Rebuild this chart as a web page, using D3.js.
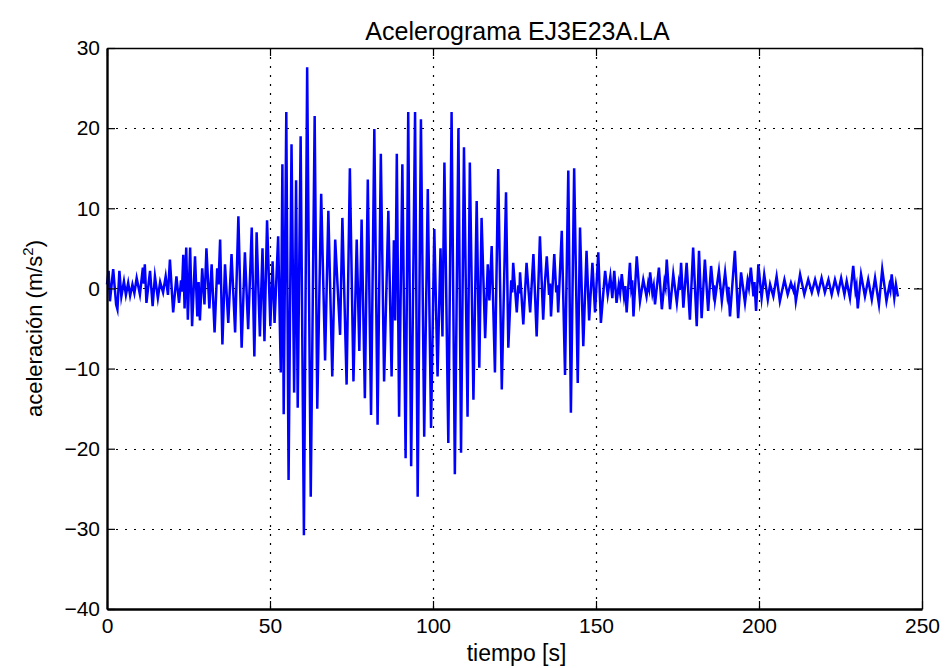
<!DOCTYPE html>
<html>
<head>
<meta charset="utf-8">
<script src="https://cdn.jsdelivr.net/npm/d3@7"></script>
<style>
  html, body { margin: 0; padding: 0; background: #fff; }
  svg { display: block; font-family: "Liberation Sans", Arial, Helvetica, sans-serif; }
</style>
</head>
<body>
<svg id="chart" width="952" height="668"></svg>
<script>
// Registro del acelerograma: pares [tiempo (s), aceleración (m/s²)] en los extremos de cada oscilación
const fasePrevia = [
  [0, 0.5], [0.5, 2.2], [0.9, -1.6], [1.9, 2.4], [2.8, -2.0], [3.2, -2.6], [3.8, 2.2], [4.4, -1.0],
  [5.2, 0.9], [5.8, -0.8], [6.5, 0.7], [7.1, -0.9], [7.8, 0.5], [8.4, -0.6], [9.1, 1.3], [10.1, -0.75],
  [11.0, 2.6], [11.3, 0.6], [11.6, 3.0], [12.1, -1.8], [13.2, 2.2], [14.0, -2.2], [14.7, 1.5], [15.6, -1.2],
  [16.3, 0.8], [17.2, -0.5], [18.0, 1.5], [18.7, -0.8], [19.3, 3.6], [20.3, -3.0], [21.3, 1.5], [22.1, -1.8],
  [22.7, 1.0], [23.0, -0.4], [23.4, 4.2], [23.8, -2.5], [24.3, 5.1], [24.8, -3.9], [25.5, 5.1], [26.1, -4.7],
  [27.0, 4.0], [27.7, -3.5], [28.1, 0.8], [28.5, -4.0], [29.2, 2.5], [29.9, -2.0], [30.5, 5.0], [31.4, -2.5], [32.1, 3.0],
  [33.0, -5.5], [33.8, 2.5], [34.2, 0.5], [34.7, 6.1], [35.4, -7.0], [36.2, 3.0], [37.2, -4.3], [38.2, 4.3], [39.3, -5.5],
  [40.3, 9.0], [41.3, -7.4], [42.3, 4.5], [43.3, -5.1], [44.4, 7.6], [45.2, -8.5], [45.9, 7.0], [46.9, -6.0],
  [47.7, 5.0], [48.3, -6.6], [49.1, 8.5], [50.1, -4.7], [50.8, 3.4], [51.4, -4.3]
];
const faseIntensa = [
  [52.5, 6.5], [53.3, -10.5], [53.8, 15.5], [54.2, -15.7], [55.0, 22.0], [55.7, -23.9], [56.6, 18.0], [57.4, -13.0],
  [58.0, 13.5], [58.5, -14.9], [59.4, 19.0], [60.4, -30.8], [61.4, 27.6], [62.5, -26.0], [63.7, 21.5], [64.5, -15.0],
  [65.7, 11.8], [66.9, -9.0], [67.9, 9.7], [69.1, -11.0], [70.0, 6.1], [71.5, -5.8], [72.2, 8.8], [73.5, -12.0],
  [74.5, 15.0], [75.6, -11.6], [76.6, 6.1], [77.4, -7.8], [78.1, 8.6], [79.1, -13.7], [80.0, 13.6], [81.0, -15.8],
  [82.0, 19.9], [83.0, -17.0], [84.0, 16.8], [85.0, -11.6], [86.3, 9.7], [87.3, -11.0], [88.0, 6.0], [88.4, -4.0],
  [88.9, 16.8], [89.6, -16.0], [90.6, 15.5], [91.6, -21.2], [92.4, 22.0], [93.3, -22.2], [94.5, 22.0], [95.3, -26.0],
  [96.3, 21.1], [97.3, -18.5], [98.4, 12.4], [99.4, -17.4], [100.4, 7.4], [101.4, -11.0], [102.3, 5.0], [102.9, -6.0],
  [103.5, 15.7], [104.7, -19.3], [105.7, 22.0], [106.7, -23.2], [107.8, 20.0], [108.6, -20.5], [109.5, 17.6], [110.6, -16.0],
  [111.3, 15.7], [112.4, -13.9], [113.4, 10.9], [114.2, -9.9], [114.9, 8.8], [116.0, -6.2], [116.8, 3.0], [117.3, -1.5],
  [118.0, 5.3], [119.0, -10.5], [120.0, 14.9], [121.1, -12.6], [122.4, 12.0], [123.1, -7.4], [124.0, 1.0], [124.3, -0.5],
  [124.6, 3.2], [125.7, -3.0], [126.2, 0.4], [126.5, -0.6], [126.7, 2.0], [127.7, -4.5], [128.7, 3.2], [129.2, 0.3],
  [129.8, -3.0], [130.8, 4.3], [131.8, -6.0], [132.8, 6.5], [133.8, -3.9], [134.3, 0.5], [134.9, 4.0], [135.6, -0.8],
  [135.9, 0.6], [136.2, -3.5], [137.2, 4.3], [137.8, -0.5], [138.1, 0.4], [138.4, -3.0], [139.5, 7.2], [140.5, -10.8],
  [141.5, 14.7], [142.3, -15.5], [143.3, 15.0], [144.4, -11.8], [145.1, 7.6], [146.1, -7.2], [147.1, 4.7], [147.9, -4.0],
  [148.9, 3.2], [149.7, -3.0], [150.7, 4.5], [151.5, -4.3], [152.8, 2.2], [153.6, -0.8], [154.4, 1.5], [155.0, -1.2],
  [155.6, 2.2], [156.3, -1.8]
];
const faseFinal = [
  [157.0, 0.5], [157.4, -0.6], [157.9, 1.8], [158.6, -1.0], [159.0, 0.3], [159.4, -3.0], [160.4, 3.2], [160.8, 0.2],
  [161.1, 1.0], [161.5, -3.5], [162.5, 4.0], [163.5, -1.6], [164.5, 1.1], [165.5, -1.0], [166.0, 0.6], [166.3, 0.0],
  [166.6, 2.0], [167.3, -0.6], [167.7, 0.3], [168.1, -2.0], [169.3, 2.6], [170.2, -2.6], [171.0, 0.8], [171.3, 0.2],
  [171.7, 3.6], [172.7, -2.6], [173.7, 1.8], [174.8, -1.8], [175.4, 0.6], [175.7, -0.2], [176.1, 3.2], [176.8, -2.4],
  [177.8, 3.2], [178.8, -3.9], [179.8, 5.1], [180.9, -4.7], [181.6, 4.7], [182.4, -3.7], [183.4, 3.6], [184.4, -2.8],
  [185.3, 2.8], [186.0, -0.3], [186.2, 0.4], [186.5, -1.4], [187.7, 2.2], [188.6, -1.6], [189.6, 2.0], [190.3, -0.8],
  [190.6, 0.2], [191.1, -3.5], [192.6, 4.7], [193.6, -3.7], [194.5, 2.0], [195.7, -1.8], [196.5, 1.0], [196.9, 0.1],
  [197.5, 2.6], [198.3, -1.0], [198.6, 0.8], [199.1, -2.8],
  [199.8, 3.0], [200.8, -1.2], [201.6, 1.75], [202.7, -1.4], [203.4, 0.5], [204.4, -1.0], [205.4, 1.5], [206.4, -1.6],
  [207.8, 1.1], [208.8, -0.75], [209.8, 0.7], [210.6, -0.3], [210.9, 0.2], [211.3, -1.6], [212.6, 1.75], [213.9, -0.75],
  [215.1, 1.1], [216.2, -0.5], [217.2, 1.1], [218.2, -0.5], [219.2, 1.3], [220.2, -0.5], [221.3, 1.1], [222.3, -0.75],
  [223.3, 1.1], [224.3, -0.5], [225.2, 1.3], [226.2, -0.75], [226.9, 0.9], [227.9, -1.2], [228.9, 2.8], [229.6, -0.3],
  [229.9, 0.3], [230.3, -2.5], [231.3, 1.75], [232.5, -1.0], [233.5, 1.1], [234.6, -1.4], [235.6, 1.3], [236.8, -2.0],
  [237.8, 2.4], [239.1, -1.6], [240.0, 0.4], [240.3, -0.2], [240.7, 1.75], [241.5, -1.2], [242.0, 0.5], [242.6, -1.0]
];

const xTicks = [0, 50, 100, 150, 200, 250];
const yTicks = [-40, -30, -20, -10, 0, 10, 20, 30];

const titulo = "Acelerograma EJ3E23A.LA";
const etiquetaX = "tiempo [s]";

const registro = fasePrevia.concat(faseIntensa, faseFinal);

const svg = d3.select("#chart");
const margin = { left: 107, right: 30, top: 48, bottom: 59 };
const W = 952, H = 668;
const innerW = W - margin.left - margin.right;
const innerH = H - margin.top - margin.bottom;

const x = d3.scaleLinear().domain([0, 250]).range([0, innerW]);
const y = d3.scaleLinear().domain([-40, 30]).range([innerH, 0]);

const g = svg.append("g").attr("transform", `translate(${margin.left},${margin.top})`);

// Rejilla punteada
const grid = g.append("g").attr("class", "grid")
  .attr("stroke", "#000").attr("stroke-width", 1.2).attr("stroke-dasharray", "2,7");
grid.selectAll("line.gx").data(xTicks.slice(1, -1)).join("line")
  .attr("class", "gx")
  .attr("x1", d => Math.round(x(d)) + 0.5).attr("x2", d => Math.round(x(d)) + 0.5)
  .attr("y1", 0).attr("y2", innerH);
grid.selectAll("line.gy").data(yTicks.slice(1, -1)).join("line")
  .attr("class", "gy")
  .attr("y1", d => Math.round(y(d)) + 0.5).attr("y2", d => Math.round(y(d)) + 0.5)
  .attr("x1", 0).attr("x2", innerW);

// Señal
const line = d3.line().x(d => x(d[0])).y(d => y(d[1]));
g.append("path")
  .datum(registro)
  .attr("d", line)
  .attr("fill", "none")
  .attr("stroke", "#0000ff")
  .attr("stroke-width", 2.5)
  .attr("stroke-linejoin", "miter")
  .attr("stroke-miterlimit", 10);

// Ejes con marcas hacia dentro en los cuatro lados
const minus = s => String(s).replace("-", "\u2212");
const axisBottom = d3.axisBottom(x).tickValues(xTicks).tickSizeInner(-8).tickSizeOuter(0)
  .tickPadding(9).tickFormat(minus);
const axisLeft = d3.axisLeft(y).tickValues(yTicks).tickSizeInner(-8).tickSizeOuter(0)
  .tickPadding(7).tickFormat(minus);
const axisTop = d3.axisTop(x).tickValues(xTicks).tickSizeInner(-8).tickSizeOuter(0).tickFormat("");
const axisRight = d3.axisRight(y).tickValues(yTicks).tickSizeInner(-8).tickSizeOuter(0).tickFormat("");

function styleAxis(sel, width) {
  sel.select(".domain").attr("stroke", "#000").attr("stroke-width", width);
  sel.selectAll(".tick line").attr("stroke", "#000").attr("stroke-width", 1.2);
  sel.selectAll(".tick text").attr("fill", "#000")
    .style("font-family", '"Liberation Sans", Arial, sans-serif').style("font-size", "21px");
}

g.append("g").call(axisTop).call(s => styleAxis(s, 1.3));
g.append("g").attr("transform", `translate(${innerW},0)`).call(axisRight).call(s => styleAxis(s, 1.3));
g.append("g").attr("transform", `translate(0,${innerH})`).call(axisBottom).call(s => styleAxis(s, 2.4));
g.append("g").call(axisLeft).call(s => styleAxis(s, 2.4));

// Título y etiquetas
svg.append("text")
  .attr("x", margin.left + innerW / 2 + 3).attr("y", 40)
  .attr("text-anchor", "middle").attr("font-size", 25).attr("fill", "#000")
  .text(titulo);

svg.append("text")
  .attr("x", margin.left + innerW / 2 + 2).attr("y", 661)
  .attr("text-anchor", "middle").attr("font-size", 23).attr("fill", "#000")
  .text(etiquetaX);

const ylab = svg.append("text")
  .attr("transform", `translate(42,${margin.top + innerH / 2}) rotate(-90)`)
  .attr("text-anchor", "middle").attr("font-size", 22).attr("fill", "#000");
ylab.append("tspan").text("aceleración (m/s");
ylab.append("tspan").attr("font-size", 15).attr("dy", -9).text("2");
ylab.append("tspan").attr("dy", 9).text(")");
</script>
</body>
</html>
